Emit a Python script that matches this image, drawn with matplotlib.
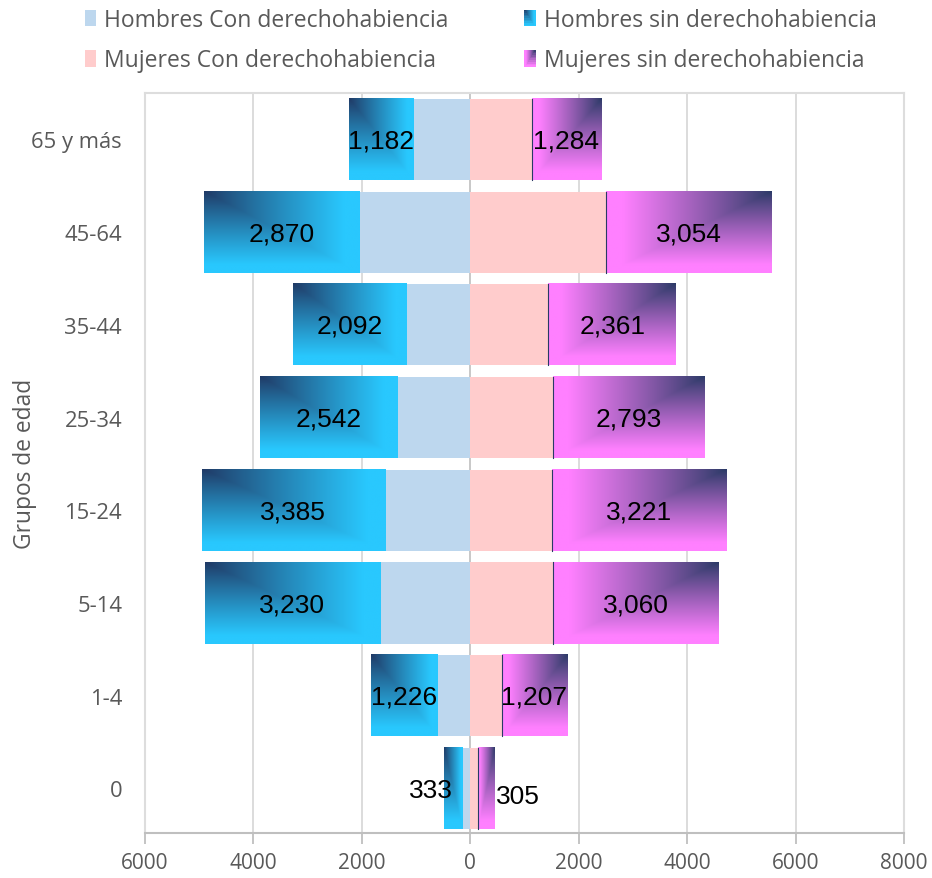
import numpy as np
import matplotlib
matplotlib.use("Agg")
import matplotlib.pyplot as plt
from matplotlib.colors import to_rgb
from matplotlib.patches import Rectangle
from matplotlib.legend_handler import HandlerBase

plt.rcParams['font.family'] = ['Open Sans', 'DejaVu Sans']

# ---- data ----
grupos = ['0', '1-4', '5-14', '15-24', '25-34', '35-44', '45-64', '65 y más']
hombres_con = [160, 610, 1665, 1570, 1335, 1185, 2048, 1055]
hombres_sin = [333, 1226, 3230, 3385, 2542, 2092, 2870, 1182]
mujeres_con = [146, 578, 1525, 1510, 1520, 1440, 2510, 1130]
mujeres_sin = [305, 1207, 3060, 3221, 2793, 2361, 3054, 1284]
xticks = [-6000, -4000, -2000, 0, 2000, 4000, 6000, 8000]
leg_labels = ['Hombres Con derechohabiencia', 'Mujeres Con derechohabiencia',
              'Hombres sin derechohabiencia', 'Mujeres sin derechohabiencia']

# ---- styles ----
C_HCON = '#BDD7EE'
C_MCON = '#FFCCCC'
C_CYAN = '#29C8FE'
C_NAVY_H = '#203864'
C_MAG = '#FF80FF'
C_NAVY_M = '#2A3A66'
GRAY = '#595959'


def grad_rgb(u, v, c0, c1, stop=0.9):
    t = np.maximum(u, v)
    s = np.clip(t / stop, 0, 1) ** 0.9
    a = np.array(to_rgb(c0)); b = np.array(to_rgb(c1))
    return a * (1 - s)[..., None] + b * s[..., None]


def grad_img(c0, c1, corner, n=200):
    u = np.linspace(0, 1, n)
    U, V = np.meshgrid(u, u)  # V=0 at top row (origin upper)
    if corner == 'right':
        U = 1 - U
    return grad_rgb(U, V, c0, c1)


class GradHandler(HandlerBase):
    def __init__(self, c0, c1, corner, n=10):
        super().__init__()
        self.c0, self.c1, self.corner, self.n = c0, c1, corner, n

    def create_artists(self, legend, orig_handle, xdescent, ydescent,
                       width, height, fontsize, trans):
        arts = []
        n = self.n
        for i in range(n):
            for j in range(n):
                u = (i + 0.5) / n
                if self.corner == 'right':
                    u = 1 - u
                v = 1 - (j + 0.5) / n
                col = grad_rgb(np.array(u), np.array(v), self.c0, self.c1)
                r = Rectangle((-xdescent + i * width / n, -ydescent + j * height / n),
                              width / n * 1.02, height / n * 1.02, facecolor=col,
                              edgecolor='none', lw=0, transform=trans, antialiased=False)
                arts.append(r)
        return arts


fig = plt.figure(figsize=(9.32, 8.79), dpi=100)
ax = fig.add_axes([145 / 932, 1 - 834 / 879, (904 - 145) / 932, (834 - 94) / 879])

y = np.arange(len(grupos))
hc = np.array(hombres_con); hs = np.array(hombres_sin)
mc = np.array(mujeres_con); ms = np.array(mujeres_sin)
H = 0.875

b_hc = ax.barh(y, -hc, height=H, color=C_HCON, zorder=2, label=leg_labels[0])
b_mc = ax.barh(y, mc, height=H, color=C_MCON, zorder=2, label=leg_labels[1])
b_hs = ax.barh(y, -hs, left=-hc, height=H, color='none', zorder=2, label=leg_labels[2])
b_ms = ax.barh(y, ms, left=mc, height=H, color='none', zorder=2, label=leg_labels[3])

img_h = grad_img(C_NAVY_H, C_CYAN, 'left')
img_m = grad_img(C_NAVY_M, C_MAG, 'right')
for p in b_hs.patches:
    x0, y0 = p.get_x(), p.get_y()
    w, hh = p.get_width(), p.get_height()
    xa, xb = min(x0, x0 + w), max(x0, x0 + w)
    ax.imshow(img_h, extent=(xa, xb, y0, y0 + hh), origin='upper',
              aspect='auto', interpolation='bilinear', zorder=2)
for p in b_ms.patches:
    x0, y0 = p.get_x(), p.get_y()
    w, hh = p.get_width(), p.get_height()
    ax.imshow(img_m, extent=(x0, x0 + w, y0, y0 + hh), origin='upper',
              aspect='auto', interpolation='bilinear', zorder=2)
    ax.plot([x0, x0], [y0, y0 + hh], color=C_NAVY_M, lw=0.8, zorder=2.5)

# data labels
lab_font = dict(family=['Liberation Sans', 'DejaVu Sans'], fontsize=19, color='black')
for i in range(len(grupos)):
    cx_h = -hc[i] - hs[i] / 2
    cx_m = mc[i] + ms[i] / 2
    if i == 0:
        ax.annotate(f"{hs[i]:,}", (cx_h, y[i]), xytext=(-22, -2), textcoords='offset pixels',
                    ha='center', va='center', zorder=5, **lab_font)
        ax.annotate(f"{ms[i]:,}", (cx_m, y[i]), xytext=(31, -8), textcoords='offset pixels',
                    ha='center', va='center', zorder=5, **lab_font)
    else:
        ax.annotate(f"{hs[i]:,}", (cx_h, y[i]), xytext=(0, -1), textcoords='offset pixels',
                    ha='center', va='center', zorder=5, **lab_font)
        ax.annotate(f"{ms[i]:,}", (cx_m, y[i]), xytext=(0, -1), textcoords='offset pixels',
                    ha='center', va='center', zorder=5, **lab_font)

ax.set_xlim(-6000, 8000)
ax.set_ylim(-0.48, 7.5)
ax.set_xticks(xticks)
ax.set_xticklabels([str(abs(v)) for v in xticks])
ax.set_yticks(y)
ax.set_yticklabels(grupos)
ax.grid(axis='x', color='#D9D9D9', lw=1.3, zorder=0)
ax.set_axisbelow(True)
ax.axvline(0, color='#C8C8C8', lw=1.3, zorder=1)

for s in ['top', 'left', 'right']:
    ax.spines[s].set_color('#DDDDDD')
    ax.spines[s].set_linewidth(1.5)
ax.spines['bottom'].set_color('#BFBFBF')
ax.spines['bottom'].set_linewidth(1.5)
ax.tick_params(axis='x', colors='#BFBFBF', length=8, width=1.3, labelcolor=GRAY,
               labelsize=15, pad=6)
ax.tick_params(axis='y', length=0, labelcolor=GRAY, labelsize=15.8, pad=16.5)

fig.text(25 / 932, 1 - 464 / 879, 'Grupos de edad', rotation=90, ha='center', va='center',
         color=GRAY, fontsize=16.4)

handles = [b_hc, b_mc, b_hs, b_ms]
leg = fig.legend(handles, leg_labels, ncol=2, loc='upper left',
                 bbox_to_anchor=(74 / 932, 1 + 2.5 / 879), frameon=False, borderpad=0,
                 fontsize=16.5, labelcolor=GRAY, handlelength=0.48, handleheight=0.75,
                 handletextpad=0.35, columnspacing=3.3, labelspacing=0.72,
                 handler_map={b_hs: GradHandler(C_NAVY_H, C_CYAN, 'left'),
                              b_ms: GradHandler(C_NAVY_M, C_MAG, 'right')})

fig.savefig('out.png', dpi=100)
